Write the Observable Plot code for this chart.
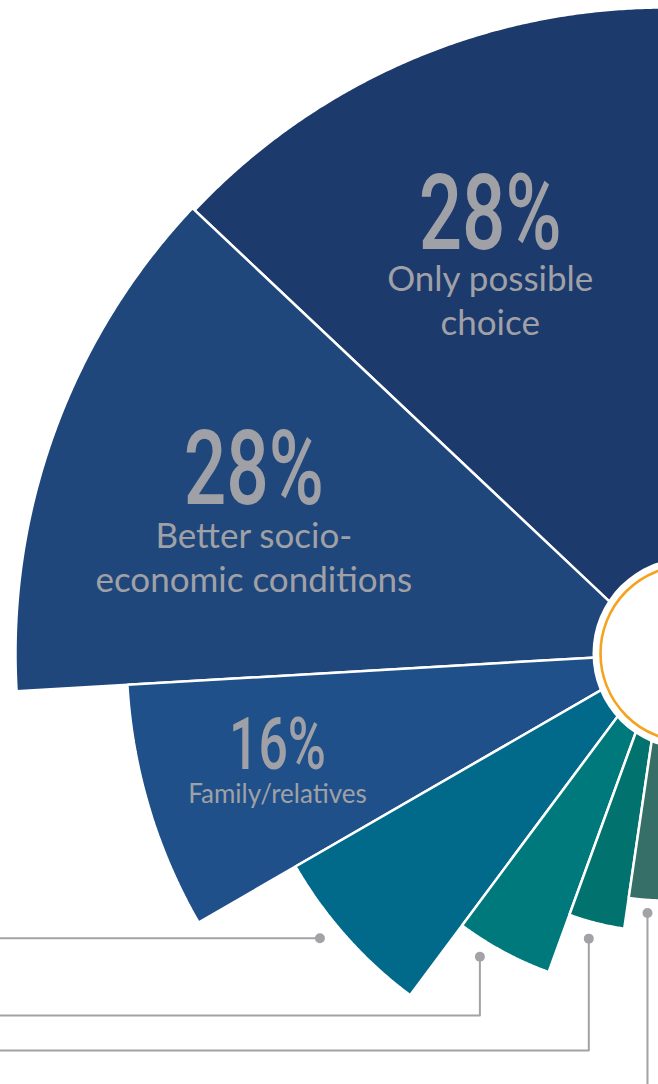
<!DOCTYPE html>
<html><head><meta charset="utf-8">
<script src="https://cdn.jsdelivr.net/npm/d3@7"></script>
<script src="https://cdn.jsdelivr.net/npm/@observablehq/plot@0.6"></script>
<style>
html,body{margin:0;padding:0;background:#fff;overflow:hidden;}
#chart{width:658px;height:1084px;overflow:hidden;position:relative;}
#chart svg{display:block;overflow:hidden;}
</style>
</head><body><div id="chart"></div>
<script>
// ---------------- data ----------------
const categories = ["Only possible choice", "Better socio-economic conditions", "Family/relatives", "Reason 4", "Reason 5", "Reason 6", "Reason 7"];
const shares = [28, 28, 16, 14, 10, 7, 5];
const pctLabels = ["28%", "28%", "16%", "", "", "", ""];
const descLines = [["Only possible", "choice"], ["Better socio-", "economic conditions"], ["Family/relatives"], [], [], [], []];

// ---------------- layout & style ----------------
const W = 658, H = 1084;
const apex = {x: 664, y: 653};             // pivot of the fan (px)
const outerRadius = [646, 649, 538, 426, 339, 278, 247];
const colors = ["#1d3a6d", "#20477c", "#1f5089", "#016a8b", "#00797d", "#01726e", "#356f67"];
const labelRadius = [440, 437, 404];
const pctSize = [106, 104, 72];
const pctSqueeze = 0.72;
const descSize = [35, 35, 26];
const descGap = [42, 44, 34];
const descLineH = 44;
const textGray = "#a0a1a6";
const hub = {dx: 24, r: 96, ringR: 88, ring: "#f5a31f"};
const leaderWedges = [3, 4, 5, 6];
const leaderAt = [0.59, 0.68, 0.56, 0.45];
const leaderGap = [21, 16, 17, 13];
const leaderRows = [null, 362, 397, 470];
const leaderGray = "#a2a2a7";

// ---------------- geometry from data ----------------
const rad = d => d * Math.PI / 180;
const angle = d3.scaleLinear().domain([0, d3.sum(shares)]).range([360, 180]);
const polar = (a, r) => ({x: r * Math.sin(rad(a)), y: -r * Math.cos(rad(a))});

let cum = 0;
const wedges = categories.map((c, i) => {
  const a1 = angle(cum), a0 = angle(cum + shares[i]);
  cum += shares[i];
  return {c, i, a0, a1, mid: (a0 + a1) / 2, R: outerRadius[i]};
});

const wedgePts = [];
for (const w of wedges) {
  wedgePts.push({c: w.c, x: 0, y: 0});
  const n = Math.ceil((w.a1 - w.a0) / 0.25);
  for (let k = 0; k <= n; k++) {
    const p = polar(w.a0 + (w.a1 - w.a0) * k / n, w.R);
    wedgePts.push({c: w.c, ...p});
  }
}

const pctData = [], descData = [];
wedges.forEach((w, i) => {
  if (!pctLabels[i]) return;
  const p = polar(w.mid, labelRadius[i]);
  pctData.push({...p, text: pctLabels[i], size: pctSize[i]});
  descLines[i].forEach((t, j) => descData.push({x: p.x, y: p.y + descGap[i] + j * descLineH, text: t, size: descSize[i]}));
});

const leaderPts = [], leaderDots = [];
leaderWedges.forEach((wi, k) => {
  const w = wedges[wi];
  const d = polar(w.a0 + (w.a1 - w.a0) * leaderAt[k], w.R + leaderGap[k]);
  leaderDots.push(d);
  const row = leaderRows[k];
  if (row == null) {
    leaderPts.push({id: k, x: d.x, y: d.y}, {id: k, x: -apex.x - 10, y: d.y});
  } else {
    leaderPts.push({id: k, x: d.x, y: d.y}, {id: k, x: d.x, y: row}, {id: k, x: -apex.x - 10, y: row});
  }
});

const plot = Plot.plot({
  width: W, height: H, margin: 0,
  x: {domain: [-apex.x, W - apex.x], range: [0, W], axis: null},
  y: {domain: [-apex.y, H - apex.y], range: [0, H], axis: null},
  color: {domain: categories, range: colors},
  style: {background: "white"},
  marks: [
    Plot.line(wedgePts, {x: "x", y: "y", z: "c", fill: "c", stroke: "white", strokeWidth: 2.5, curve: "linear-closed", strokeLinejoin: "miter"}),
    Plot.dot([{x: hub.dx, y: 0}], {x: "x", y: "y", r: hub.r, fill: "white", stroke: null}),
    Plot.dot([{x: hub.dx, y: 0}], {x: "x", y: "y", r: hub.ringR, fill: "none", stroke: hub.ring, strokeWidth: 2.6}),
    Plot.line(leaderPts, {x: "x", y: "y", z: "id", stroke: leaderGray, strokeWidth: 2}),
    Plot.dot(leaderDots, {x: "x", y: "y", r: 5, fill: leaderGray, stroke: null}),
    Plot.text(pctData, {x: "x", y: "y", text: "text", fontSize: "size", lineAnchor: "bottom", textAnchor: "middle", fill: textGray, fontFamily: "Roboto, sans-serif", fontWeight: 500}),
    Plot.text(descData, {x: "x", y: "y", text: "text", fontSize: "size", lineAnchor: "bottom", textAnchor: "middle", fill: textGray, fontFamily: "Lato, 'Open Sans', sans-serif"})
  ]
});
document.getElementById("chart").appendChild(plot);
// narrow the big percentages horizontally (condensed display face)
plot.querySelectorAll("text").forEach(t => {
  if (!/%$/.test(t.textContent.trim())) return;
  const tr = t.getAttribute("transform");
  if (tr && /translate/.test(tr)) {
    t.setAttribute("transform", tr + ` scale(${pctSqueeze},1)`);
  } else {
    const x = +(t.getAttribute("x") || 0), y = +(t.getAttribute("y") || 0);
    t.removeAttribute("x"); t.removeAttribute("y");
    t.setAttribute("transform", `translate(${x},${y})` + (tr ? " " + tr : "") + ` scale(${pctSqueeze},1)`);
  }
});
</script>
</body></html>
